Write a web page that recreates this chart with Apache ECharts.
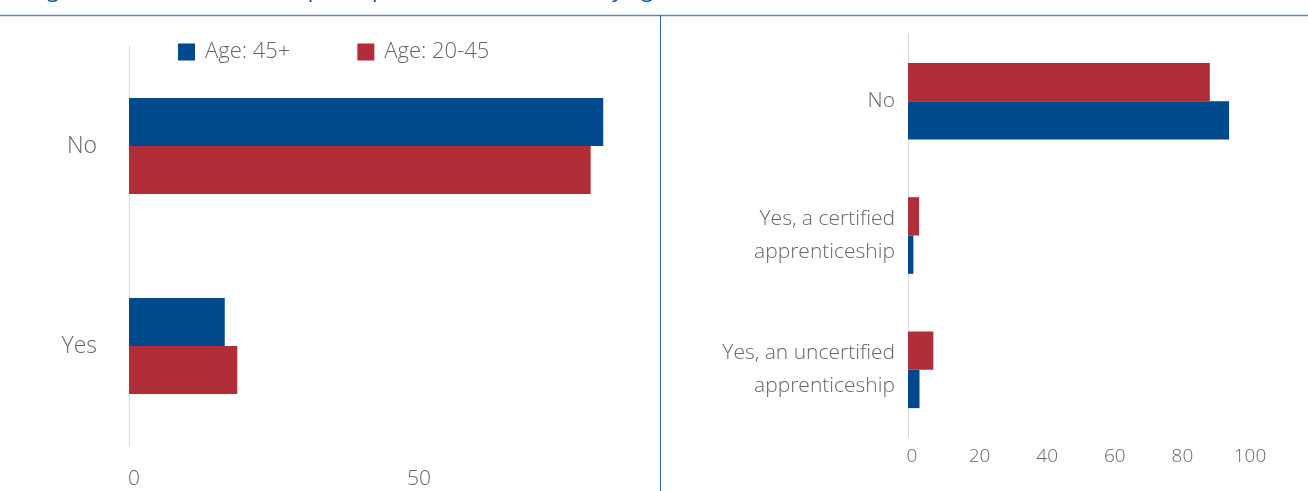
<!DOCTYPE html>
<html>
<head>
<meta charset="utf-8">
<script src="https://cdn.jsdelivr.net/npm/echarts@6/dist/echarts.min.js"></script>
<style>
html,body{margin:0;padding:0;background:#fff;}
#c{width:1308px;height:491px;}
</style>
</head>
<body>
<div id="c"></div>
<script>
// ---- data ----
const titleText = "Figure 4: Share of workers' participation in the scheme, by age";
const seriesNames = ["Age: 45+", "Age: 20-45"];
const leftCategories = ["No", "Yes"];
const leftOlder = [83.2, 16.8];
const leftYounger = [81.0, 19.0];
const rightCategories = ["No", "Yes, a certified\napprenticeship", "Yes, an uncertified\napprenticeship"];
const rightYounger = [89.3, 3.3, 7.5];
const rightOlder = [95.0, 1.6, 3.4];
const leftTicks = { min: 0, max: 100, interval: 50 };
const rightTicks = { min: 0, max: 100, interval: 20 };

const BLUE = "#00498d";
const RED = "#b02e38";
const GREY = "#666666";
const FONT = "Open Sans";

const chart = echarts.init(document.getElementById('c'), null, { renderer: 'canvas' });
chart.setOption({
  backgroundColor: '#ffffff',
  animation: false,
  textStyle: { fontFamily: FONT, fontWeight: 300 },
  graphic: [
    { type: 'text', left: 30, top: -20, silent: true,
      style: { text: titleText, fontFamily: FONT, fontSize: 22, fill: '#0b4f98' } },
    { type: 'line', silent: true, shape: { x1: 0, y1: 15.5, x2: 1308, y2: 15.5 },
      style: { stroke: '#5a87bf', lineWidth: 1.5 } },
    { type: 'line', silent: true, shape: { x1: 660.5, y1: 15, x2: 660.5, y2: 491 },
      style: { stroke: '#2f66aa', lineWidth: 1 } }
  ],
  legend: {
    left: 173, top: 36,
    icon: 'rect', itemWidth: 17, itemHeight: 17, itemGap: 67,
    data: seriesNames,
    textStyle: { fontFamily: FONT, fontWeight: 300, fontSize: 22, color: GREY, padding: [0,0,0,5] }
  },
  grid: [
    { left: 129, top: 46, width: 570, height: 400, containLabel: false },
    { left: 908, top: 34, width: 338, height: 403, containLabel: false }
  ],
  xAxis: [
    { type: 'value', gridIndex: 0, min: leftTicks.min, max: leftTicks.max, interval: leftTicks.interval,
      axisLine: { show: false }, axisTick: { show: false }, splitLine: { show: false },
      axisLabel: { showMaxLabel: false, fontFamily: FONT, fontWeight: 300, fontSize: 21, color: GREY, margin: 23, padding: [0,0,0,10] } },
    { type: 'value', gridIndex: 1, min: rightTicks.min, max: rightTicks.max, interval: rightTicks.interval,
      axisLine: { show: false }, axisTick: { show: false }, splitLine: { show: false },
      axisLabel: { fontFamily: FONT, fontWeight: 300, fontSize: 19, color: GREY, margin: 10, padding: [0,0,0,8] } }
  ],
  yAxis: [
    { type: 'category', gridIndex: 0, data: leftCategories, inverse: true,
      axisLine: { show: true, lineStyle: { color: '#d9d9d9', width: 1 } }, axisTick: { show: false },
      axisLabel: { fontFamily: FONT, fontWeight: 300, fontSize: 23, color: GREY, margin: 32, lineHeight: 28, padding: [4,0,0,0] } },
    { type: 'category', gridIndex: 1, data: rightCategories, inverse: true,
      axisLine: { show: true, lineStyle: { color: '#d9d9d9', width: 1 } }, axisTick: { show: false },
      axisLabel: { fontFamily: FONT, fontWeight: 300, fontSize: 21, color: GREY, margin: 13, lineHeight: 33, align: 'right', padding: [3,0,0,0] } }
  ],
  series: [
    { name: seriesNames[0], type: 'bar', xAxisIndex: 0, yAxisIndex: 0, data: leftOlder,
      itemStyle: { color: BLUE }, barGap: '0%', barCategoryGap: '52%' },
    { name: seriesNames[1], type: 'bar', xAxisIndex: 0, yAxisIndex: 0, data: leftYounger,
      itemStyle: { color: RED }, barGap: '0%', barCategoryGap: '52%' },
    { name: seriesNames[1], type: 'bar', xAxisIndex: 1, yAxisIndex: 1, data: rightYounger,
      itemStyle: { color: RED }, barGap: '0%', barCategoryGap: '43%' },
    { name: seriesNames[0], type: 'bar', xAxisIndex: 1, yAxisIndex: 1, data: rightOlder,
      itemStyle: { color: BLUE }, barGap: '0%', barCategoryGap: '43%' }
  ]
});
</script>
</body>
</html>
